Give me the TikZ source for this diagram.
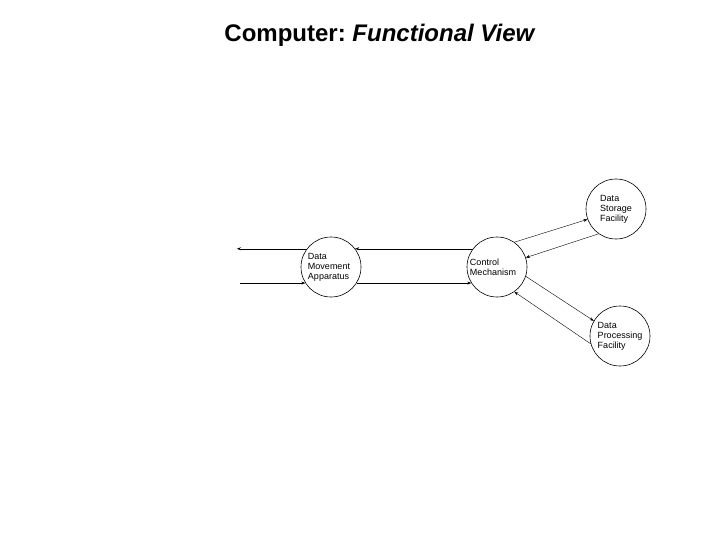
\documentclass[tikz,border=0pt]{standalone}
\usepackage{fontspec}
\setmainfont{Liberation Sans}
\usetikzlibrary{arrows.meta}
\begin{document}
\begin{tikzpicture}[x=1pt,y=-1pt, >={Stealth[length=4pt,width=3pt]},
    unit/.style={circle, draw, line width=0.6pt, minimum size=60pt, inner sep=0pt,
                 font=\fontsize{9}{10}\selectfont, align=left},
    flow/.style={->, line width=0.4pt}]
  \useasboundingbox (0,0) rectangle (720,540);
  \node[font=\bfseries\fontsize{24}{28}\selectfont, inner sep=0pt] (title) at (380,35)
    {Computer:~\textit{Functional View}};

  \node[unit] (dma) at (331,267) {\hspace*{-4pt}Data\\\hspace*{-4pt}Movement\\\hspace*{-4pt}Apparatus};
  \node[unit] (ctl) at (497,267) {\hspace*{-8pt}Control\\\hspace*{-8pt}Mechanism};
  \node[unit] (sto) at (616,209) {Data\\Storage\\Facility};
  \node[unit] (pro) at (620,336) {Data\\Processing\\Facility};

  \coordinate (out) at (237,249);
  \coordinate (in)  at (240,283);

  \draw[flow] (dma.143) -- (dma.143 -| out);
  \draw[flow] (dma.212 -| in) -- (dma.212);
  \draw[flow] (ctl.143) -- (dma.37);
  \draw[flow] (dma.328) -- (ctl.212);
  \draw[flow] (ctl.55) -- (sto.200);
  \draw[flow] (sto.235) -- (ctl.18);
  \draw[flow] (ctl.-18) -- (pro.150);
  \draw[flow] (pro.195) -- (ctl.-55);
\end{tikzpicture}
\end{document}
